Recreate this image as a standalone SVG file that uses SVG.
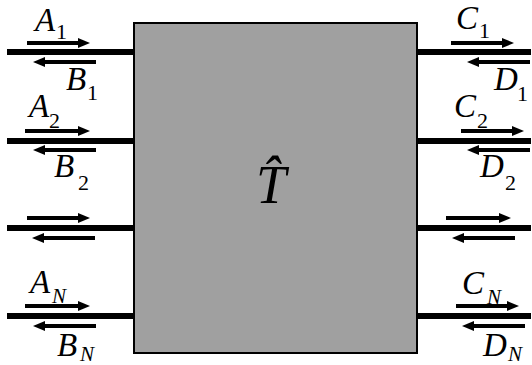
<svg xmlns="http://www.w3.org/2000/svg" width="532" height="365" viewBox="0 0 532 365">
<style>
.port{stroke:#000;stroke-width:6;fill:none}
.arr{stroke:#000;stroke-width:4;fill:none;marker-end:url(#ah)}
text{font-family:'Liberation Serif','Times New Roman',serif;fill:#000}
.lbl{font-style:italic;font-size:33px}
.big{font-style:italic;font-size:54px}
.sub{font-style:normal;font-size:22px}
.subi{font-style:italic;font-size:21px}
</style>
<defs>
<marker id="ah" markerUnits="userSpaceOnUse" markerWidth="12" markerHeight="12" refX="2" refY="5" orient="auto" viewBox="0 0 12 10">
<path d="M0,0 L12,5 L0,10 z" fill="#000"/>
</marker>
</defs>
<rect width="532" height="365" fill="#fff"/>
<g id="connectors">
<path class="port" d="M7,52H134M7,141H134M7,228H134M7,316H134"/>
<path class="port" d="M417,52H531M417,141H531M417,228H531M417,316H531"/>
<path class="arr" d="M27,43H80"/>
<path class="arr" d="M96,62H43"/>
<path class="arr" d="M25,131H80"/>
<path class="arr" d="M96,150H43"/>
<path class="arr" d="M27,218H80"/>
<path class="arr" d="M95,238H42"/>
<path class="arr" d="M25,306H80"/>
<path class="arr" d="M96,326H43"/>
<path class="arr" d="M451,43H504"/>
<path class="arr" d="M530,62H477"/>
<path class="arr" d="M461,131H514"/>
<path class="arr" d="M530,150H477"/>
<path class="arr" d="M446,218H501"/>
<path class="arr" d="M515,238H462"/>
<path class="arr" d="M456,306H509"/>
<path class="arr" d="M525,326H472"/>
</g>
<g id="T">
<rect x="134" y="23" width="283" height="330" fill="#a0a0a0" stroke="#000" stroke-width="2"/>
<text x="256" y="203" class="big">T̂</text>
</g>
<g id="left-labels">
<text x="35" y="31" class="lbl">A</text><text x="56" y="39" class="sub">1</text>
<text x="66" y="90" class="lbl">B</text><text x="87" y="100" class="sub">1</text>
<text x="29" y="117" class="lbl">A</text><text x="49" y="128" class="sub">2</text>
<text x="54" y="177" class="lbl">B</text><text x="78" y="190" class="sub">2</text>
<text x="30" y="293" class="lbl">A</text><text x="52" y="303" class="subi">N</text>
<text x="57" y="356" class="lbl">B</text><text x="80" y="361" class="subi">N</text>
</g>
<g id="right-labels">
<text x="456" y="29" class="lbl">C</text><text x="479" y="38" class="sub">1</text>
<text x="494" y="90" class="lbl">D</text><text x="517" y="101" class="sub">1</text>
<text x="454" y="117" class="lbl">C</text><text x="477" y="128" class="sub">2</text>
<text x="480" y="177" class="lbl">D</text><text x="505" y="190" class="sub">2</text>
<text x="462" y="294" class="lbl">C</text><text x="487" y="304" class="subi">N</text>
<text x="483" y="356" class="lbl">D</text><text x="508" y="361" class="subi">N</text>
</g>
</svg>
